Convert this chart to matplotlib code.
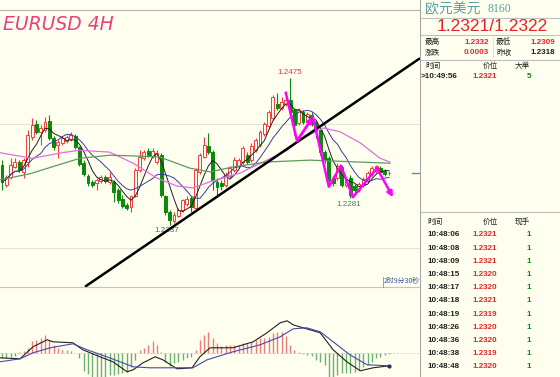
import numpy as np
import pandas as pd
import matplotlib
matplotlib.use("Agg")
import matplotlib.pyplot as plt
from matplotlib.transforms import blended_transform_factory

# EURUSD 4H candles, oldest first
opens = [1.2334, 1.2302, 1.2315, 1.2331, 1.2339, 1.2323, 1.2339, 1.2379, 1.2401, 1.2388,
         1.2391, 1.2405, 1.2378, 1.2367, 1.2370, 1.2373, 1.2376, 1.2381, 1.2363, 1.2337,
         1.2316, 1.2307, 1.2305, 1.2308, 1.2315, 1.2307, 1.2307, 1.2294, 1.2279, 1.2269,
         1.2266, 1.2284, 1.2326, 1.2345, 1.2357, 1.2349, 1.2339, 1.2350, 1.2284, 1.2258,
         1.2243, 1.2252, 1.2261, 1.2271, 1.2280, 1.2265, 1.2323, 1.2347, 1.2365, 1.2355,
         1.2307, 1.2305, 1.2302, 1.2316, 1.2326, 1.2332, 1.2339, 1.2350, 1.2342, 1.2358,
         1.2367, 1.2384, 1.2397, 1.2410, 1.2433, 1.2426, 1.2433, 1.2439, 1.2423, 1.2402,
         1.2420, 1.2404, 1.2415, 1.2404, 1.2391, 1.2355, 1.2345, 1.2313, 1.2313, 1.2331,
         1.2302, 1.2313, 1.2300, 1.2294, 1.2302, 1.2308, 1.2320, 1.2324, 1.2329, 1.2324,
         1.2321]
closes = [1.2307, 1.2315, 1.2334, 1.2339, 1.2326, 1.2342, 1.2383, 1.2399, 1.2388, 1.2394,
          1.2404, 1.2378, 1.2363, 1.2371, 1.2378, 1.2379, 1.2383, 1.2363, 1.2336, 1.2320,
          1.2305, 1.2302, 1.2310, 1.2315, 1.2308, 1.2315, 1.2291, 1.2277, 1.2268, 1.2265,
          1.2284, 1.2326, 1.2347, 1.2355, 1.2350, 1.2357, 1.2354, 1.2286, 1.2258, 1.2245,
          1.2253, 1.2261, 1.2277, 1.2279, 1.2266, 1.2326, 1.2350, 1.2367, 1.2355, 1.2310,
          1.2299, 1.2300, 1.2318, 1.2329, 1.2342, 1.2342, 1.2362, 1.2339, 1.2365, 1.2375,
          1.2388, 1.2401, 1.2420, 1.2444, 1.2426, 1.2436, 1.2439, 1.2420, 1.2399, 1.2423,
          1.2404, 1.2417, 1.2401, 1.2391, 1.2355, 1.2342, 1.2310, 1.2305, 1.2332, 1.2302,
          1.2310, 1.2286, 1.2294, 1.2303, 1.2311, 1.2321, 1.2329, 1.2332, 1.2323, 1.2320,
          1.2321]
highs = [1.2342, 1.2318, 1.2345, 1.2345, 1.2342, 1.2345, 1.2391, 1.2410, 1.2407, 1.2399,
         1.2412, 1.2415, 1.2381, 1.2375, 1.2381, 1.2383, 1.2388, 1.2384, 1.2365, 1.2342,
         1.2320, 1.2310, 1.2313, 1.2318, 1.2318, 1.2323, 1.2310, 1.2297, 1.2286, 1.2273,
         1.2286, 1.2329, 1.2358, 1.2358, 1.2362, 1.2362, 1.2358, 1.2354, 1.2286, 1.2261,
         1.2258, 1.2265, 1.2279, 1.2284, 1.2284, 1.2329, 1.2354, 1.2379, 1.2386, 1.2358,
         1.2313, 1.2310, 1.2323, 1.2332, 1.2347, 1.2345, 1.2365, 1.2355, 1.2370, 1.2378,
         1.2391, 1.2404, 1.2423, 1.2447, 1.2451, 1.2444, 1.2446, 1.2475, 1.2426, 1.2426,
         1.2423, 1.2420, 1.2420, 1.2407, 1.2394, 1.2358, 1.2349, 1.2316, 1.2337, 1.2334,
         1.2315, 1.2318, 1.2303, 1.2307, 1.2315, 1.2324, 1.2332, 1.2334, 1.2332, 1.2328,
         1.2324]
lows = [1.2294, 1.2299, 1.2311, 1.2329, 1.2323, 1.2313, 1.2331, 1.2375, 1.2384, 1.2367,
        1.2388, 1.2375, 1.2358, 1.2345, 1.2367, 1.2370, 1.2373, 1.2360, 1.2332, 1.2316,
        1.2300, 1.2299, 1.2294, 1.2305, 1.2305, 1.2303, 1.2274, 1.2273, 1.2265, 1.2261,
        1.2258, 1.2282, 1.2323, 1.2342, 1.2347, 1.2345, 1.2336, 1.2282, 1.2253, 1.2237,
        1.2240, 1.2250, 1.2258, 1.2268, 1.2258, 1.2261, 1.2320, 1.2345, 1.2352, 1.2294,
        1.2283, 1.2294, 1.2299, 1.2313, 1.2323, 1.2329, 1.2336, 1.2336, 1.2339, 1.2355,
        1.2363, 1.2381, 1.2394, 1.2407, 1.2423, 1.2423, 1.2430, 1.2417, 1.2383, 1.2399,
        1.2401, 1.2401, 1.2397, 1.2378, 1.2350, 1.2337, 1.2307, 1.2300, 1.2310, 1.2299,
        1.2299, 1.2281, 1.2289, 1.2291, 1.2299, 1.2305, 1.2316, 1.2321, 1.2320, 1.2316,
        1.2318]

# slower moving averages (candle index, price)
ma20_x = [-0.5, 7, 14, 18, 25, 30.5, 36, 40.7, 44.4, 48.4, 55.3, 61.6, 66.3, 69.3, 74.7, 78.6, 83.3, 87.9, 90.2]
ma20_y = [1.2354, 1.2345, 1.2354, 1.2358, 1.2355, 1.2337, 1.2313, 1.2300, 1.2297, 1.2307,
          1.2321, 1.2342, 1.2358, 1.2375, 1.2394, 1.2388, 1.2370, 1.2345, 1.2339]
ma60_x = [-0.5, 6.5, 18.1, 25.1, 29.8, 36.7, 43.7, 48.4, 53.7, 61.6, 71.6, 90.2]
ma60_y = [1.2310, 1.2320, 1.2345, 1.2350, 1.2349, 1.2347, 1.2329, 1.2323, 1.2331, 1.2339, 1.2342, 1.2337]

# hand drawn trend line and wave path
trend_x = [19.3, 97.2]
trend_y = [1.2137, 1.2507]
wave_x = [66.0, 68.6, 72.3, 76.0, 78.8, 81.6, 87.2, 90.9]
wave_y = [1.2451, 1.2373, 1.2412, 1.2299, 1.2333, 1.2282, 1.2329, 1.2282]

# MACD
macd_hist = [-0.00010, -0.00010, -0.00008, -0.00006, 0.00002, 0.00004, 0.00010, 0.00024, 0.00026, 0.00030,
             0.00036, 0.00026, 0.00016, 0.00010, 0.00006, 0.00006, 0.00004, 0.00001, -0.00010, -0.00036,
             -0.00042, -0.00050, -0.00054, -0.00050, -0.00048, -0.00044, -0.00044, -0.00042, -0.00040, -0.00038,
             -0.00028, -0.00014, 0.00006, 0.00010, 0.00016, 0.00024, 0.00016, 0.00002, -0.00018, -0.00026,
             -0.00020, -0.00018, -0.00014, -0.00010, -0.00008, 0.00006, 0.00026, 0.00036, 0.00042, 0.00030,
             0.00020, 0.00014, 0.00016, 0.00016, 0.00016, 0.00016, 0.00020, 0.00020, 0.00022, 0.00026,
             0.00030, 0.00030, 0.00032, 0.00040, 0.00042, 0.00042, 0.00034, 0.00016, 0.00006, 0.00002,
             -0.00001, -0.00004, -0.00006, -0.00014, -0.00018, -0.00024, -0.00048, -0.00048, -0.00044, -0.00040,
             -0.00040, -0.00040, -0.00038, -0.00034, -0.00028, -0.00024, -0.00018, -0.00010, -0.00008, -0.00004,
             -0.00002]
dif_x = [-0.5, 4.2, 7.2, 10.5, 11.9, 16.5, 18.8, 22.8, 25.8, 29.1, 30.5, 32.8, 35.6, 37.4, 40.7, 44.2,
         46.0, 48.4, 53.7, 58.4, 61.6, 64.7, 66.3, 67.7, 70.0, 74.0, 77.0, 80.2, 83.3, 86.3, 90.0]
dif_y = [-0.00009, -0.00011, 0.00013, 0.00027, 0.00023, 0.00021, 0.00007, -0.00007, -0.00017, -0.00037,
         -0.00033, -0.00019, -0.00007, -0.00013, -0.00031, -0.00029, -0.00007, 0.00011, 0.00011, 0.00023,
         0.00041, 0.00061, 0.00065, 0.00057, 0.00051, 0.00041, 0.00007, -0.00017, -0.00035, -0.00029, -0.00025]
dea_x = [-0.5, 4.2, 7.2, 11.2, 16.5, 19.8, 24.4, 30.5, 34.4, 39.8, 44.4, 47.7, 53.7, 60.0, 64.7, 67.7,
         70.9, 74.0, 77.0, 80.9, 84.9, 90.0]
dea_y = [-0.00017, -0.00011, 0.00001, 0.00011, 0.00019, 0.00007, -0.00007, -0.00027, -0.00029, -0.00029,
         -0.00029, -0.00013, 0.00003, 0.00017, 0.00033, 0.00049, 0.00051, 0.00043, 0.00023, -0.00003,
         -0.00023, -0.00025]

# quote panel
title_name = "欧元美元"
title_code = "8160"
bid_ask = "1.2321/1.2322"
stats = [("最高", "1.2332", "最低", "1.2309"), ("涨跌", "0.0003", "昨收", "1.2318")]
big_order = (">10:49:56", "1.2321", "5")
trade_times = ["10:48:06", "10:48:08", "10:48:09", "10:48:15", "10:48:17", "10:48:18",
               "10:48:19", "10:48:26", "10:48:36", "10:48:38", "10:48:48"]
trade_prices = ["1.2321", "1.2321", "1.2321", "1.2320", "1.2320", "1.2321",
                "1.2319", "1.2320", "1.2320", "1.2319", "1.2320"]
trade_vols = ["1"] * 11

BG = "#FFFFF0"
RED = "#F03C3C"
GREEN = "#0A8A0A"
CJK = ["Noto Sans CJK SC", "DejaVu Sans"]
NUM = "Liberation Sans"

W, H = 560, 377


def box(x0, y0, x1, y1):
    return [x0 / W, 1 - y1 / H, (x1 - x0) / W, (y1 - y0) / H]


o = np.array(opens)
c = np.array(closes)
hi = np.array(highs)
lo = np.array(lows)
x = np.arange(len(c))
up = c >= o

fig = plt.figure(figsize=(5.6, 3.77), dpi=100, facecolor=BG)

# main price panel
ax = fig.add_axes(box(0, 0, 420, 287))
ax.set_xlim(-0.465, 97.2)
ax.set_ylim(1.21366, 1.26013)
ax.set_axis_off()

for lvl in (1.2400, 1.2200):
    ax.axhline(lvl, color="#E4E4D4", lw=0.8, zorder=0)

col = np.where(up, RED, GREEN)
ax.vlines(x, lo, hi, colors=col, lw=0.8, zorder=2)
body = np.maximum(np.abs(c - o), 0.00003)
ax.bar(x, body, bottom=np.minimum(o, c), width=0.68,
       color=np.where(up, BG, GREEN), edgecolor=col, lw=0.7, zorder=3)

close_s = pd.Series(closes)
ma5 = close_s.rolling(5, min_periods=1).mean()
ma10 = close_s.rolling(10, min_periods=1).mean()
ax.plot(x, ma5, color="#202020", lw=0.7, zorder=4)
ax.plot(x, ma10, color="#3C3CA0", lw=0.7, zorder=4)
ax.plot(ma20_x, ma20_y, color="#E070E0", lw=0.9, zorder=4)
ax.plot(ma60_x, ma60_y, color="#5E9A5E", lw=0.9, zorder=4)

ax.plot(trend_x, trend_y, color="black", lw=1.8, zorder=5, solid_capstyle="butt")

ax.plot(wave_x[:-1], wave_y[:-1], color="#FF00FF", lw=1.8, zorder=6)
for k in (2, len(wave_x) - 1):
    ax.annotate("", xy=(wave_x[k], wave_y[k]), xytext=(wave_x[k - 1], wave_y[k - 1]),
                arrowprops=dict(arrowstyle="-|>", color="#FF00FF", lw=1.8,
                                mutation_scale=8, shrinkA=0, shrinkB=0), zorder=6)

ih = int(np.argmax(hi))
ax.annotate(f"{hi[ih]:.4f}", (ih, hi[ih]), xytext=(0, 1.5), textcoords="offset points",
            ha="center", va="bottom", color="#E03838", fontsize=5.8, family=NUM)
il = int(np.argmin(lo))
ax.annotate(f"{lo[il]:.4f}", (il, lo[il]), xytext=(-2, -1.5), textcoords="offset points",
            ha="center", va="top", color="#4A6A5A", fontsize=5.8, family=NUM)
il2 = len(lo) - 20 + int(np.argmin(lo[-20:]))
ax.annotate(f"{lo[il2]:.4f}", (il2, lo[il2]), xytext=(-1, -2), textcoords="offset points",
            ha="center", va="top", color="#3C8060", fontsize=5.8, family=NUM)

tr = blended_transform_factory(ax.transAxes, ax.transData)
ax.plot([412 / 420, 1.0], [c[-1], c[-1]], color="#7A7AC0", lw=1.0, transform=tr)

# MACD panel
mx = fig.add_axes(box(0, 287, 420, 377))
mx.set_xlim(-0.465, 97.2)
mx.set_ylim(-0.000474, 0.001326)
mx.set_axis_off()
mh = np.array(macd_hist)
mx.axhline(0, color="#C8C8C8", lw=0.6, ls=(0, (2, 2)), zorder=0)
mx.vlines(x, 0, mh, colors=np.where(mh >= 0, "#EC7C7C", "#6CB26C"), lw=1.0, zorder=2)
mx.plot(dif_x, dif_y, color="#202020", lw=0.8, zorder=3)
mx.plot(dea_x, dea_y, color="#4848B0", lw=0.8, zorder=3)
mx.plot(dea_x[-1], dea_y[-1], "o", color="#2A2A70", ms=2, zorder=4)

# frame / quote panel in pixel coordinates
fr = fig.add_axes([0, 0, 1, 1])
fr.set_xlim(0, W)
fr.set_ylim(H, 0)
fr.set_axis_off()

fr.plot([0, 420], [10, 10], color="#B4B4B4", lw=0.8)
fr.plot([0, 420], [287, 287], color="#C4C4C4", lw=0.8)
fr.plot([420, 420], [0, H], color="#A8A8A8", lw=0.8)
for yy in (18, 35, 60, 212):
    fr.plot([421, W], [yy, yy], color="#C0C0C0", lw=0.8)
fr.plot([493, 493], [37, 58], color="#B0B0B0", lw=0.6, ls=(0, (1, 1.5)))

fr.text(3, 24, "EURUSD 4H", color="#E8407A", fontsize=13.5, style="italic",
        family="DejaVu Sans", va="center", ha="left")
fr.text(384, 281.5, "2时9分30秒", color="#3A5A9A", fontsize=5, family=CJK, va="center", ha="left")
fr.plot([383, 383], [277, 287], color="#8090C0", lw=0.6)

fr.text(425, 9.5, title_name, color="#5AA0A0", fontsize=10, family=CJK, va="center")
fr.text(487, 9.5, title_code, color="#5AA0A0", fontsize=8.5, family="Liberation Serif", va="center")
fr.text(492, 26.5, bid_ask, color="#E8202A", fontsize=12.5, family=NUM, va="center", ha="center")

for row, yy in zip(stats, (42, 53)):
    fr.text(425, yy, row[0], fontsize=5.5, family=CJK, va="center", color="#202020")
    fr.text(489, yy, row[1], fontsize=5.8, family=NUM, weight="bold", va="center", ha="right", color="#E02828")
    fr.text(496, yy, row[2], fontsize=5.5, family=CJK, va="center", color="#202020")
    fr.text(555, yy, row[3], fontsize=5.8, family=NUM, weight="bold", va="center", ha="right",
            color="#E02828" if row[2] == "最低" else "#202020")

fr.text(425, 66, "时间", fontsize=5.5, family=CJK, va="center", color="#202020")
fr.text(483, 66, "价位", fontsize=5.5, family=CJK, va="center", color="#202020")
fr.text(515, 66, "大单", fontsize=5.5, family=CJK, va="center", color="#202020")
fr.text(421, 77, big_order[0], fontsize=5.8, family=NUM, weight="bold", va="center", color="#202020")
fr.text(497, 77, big_order[1], fontsize=5.8, family=NUM, weight="bold", va="center", ha="right", color="#E02828")
fr.text(531, 77, big_order[2], fontsize=5.8, family=NUM, weight="bold", va="center", ha="right", color=GREEN)

fr.text(427, 222, "时间", fontsize=5.5, family=CJK, va="center", color="#202020")
fr.text(483, 222, "价位", fontsize=5.5, family=CJK, va="center", color="#202020")
fr.text(515, 222, "现手", fontsize=5.5, family=CJK, va="center", color="#202020")
for k, (t, p, v) in enumerate(zip(trade_times, trade_prices, trade_vols)):
    yy = 235 + 13.2 * k
    fr.text(427, yy, t, fontsize=5.8, family=NUM, weight="bold", va="center", color="#202020")
    fr.text(497, yy, p, fontsize=5.8, family=NUM, weight="bold", va="center", ha="right", color="#E02828")
    fr.text(531, yy, v, fontsize=5.8, family=NUM, weight="bold", va="center", ha="right", color=GREEN)

fig.savefig("out.png", dpi=100, facecolor=BG)
